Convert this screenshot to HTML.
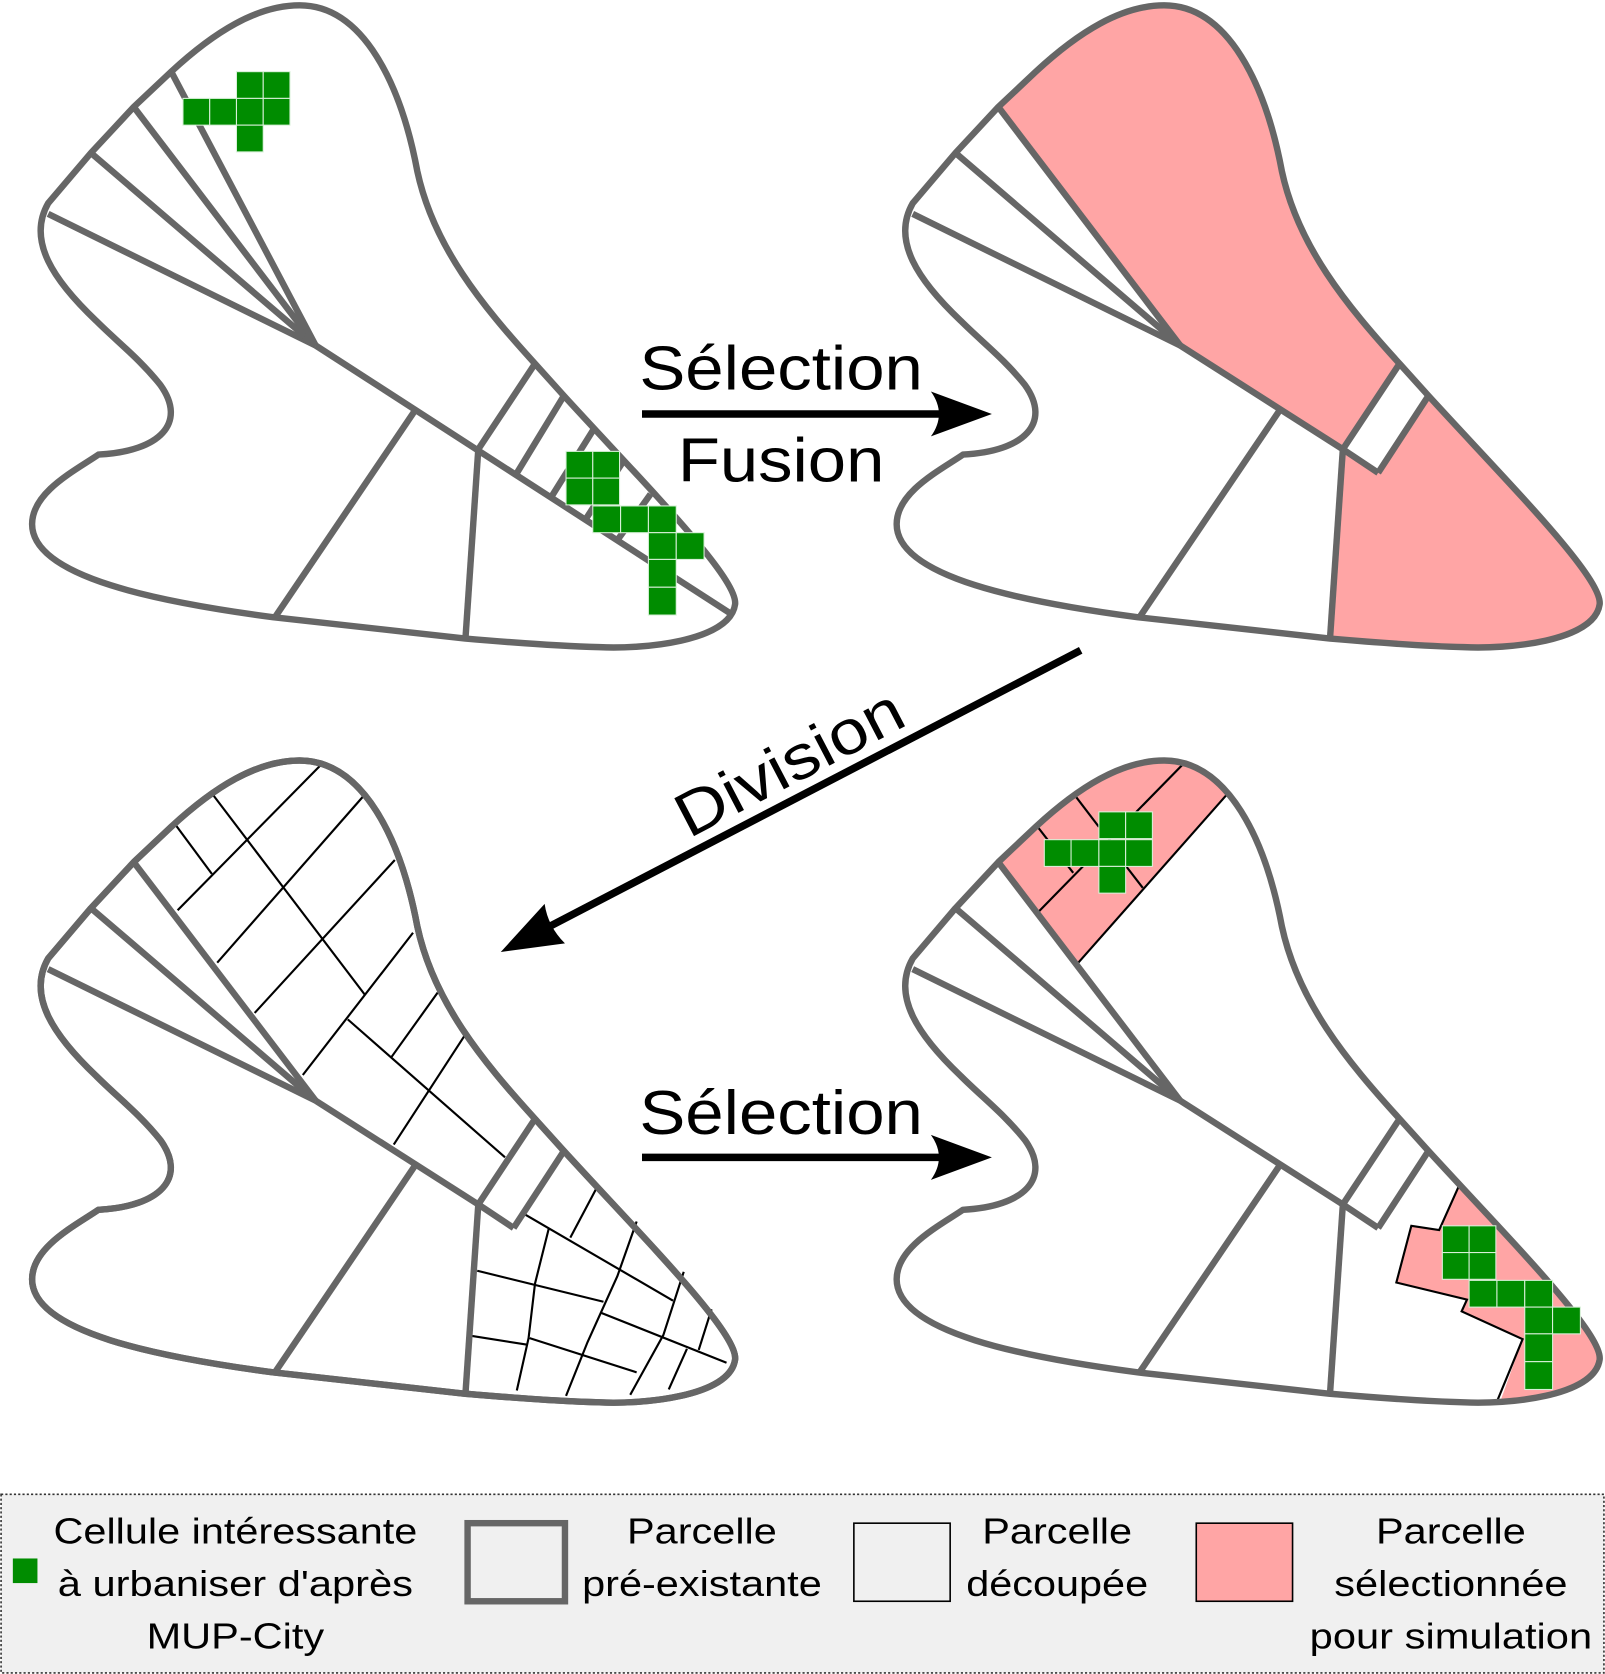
<!DOCTYPE html>
<html><head><meta charset="utf-8"><style>
html,body{margin:0;padding:0;background:#fff;}
svg{display:block;}
text{font-family:"Liberation Sans",Arial,sans-serif;fill:#000;}
</style></head><body>
<svg width="1605" height="1674" viewBox="0 0 1500 1565" preserveAspectRatio="none" xmlns="http://www.w3.org/2000/svg">
<defs>
<path id="outline" d="M45,190 L85,143 L125,100 L160,67 C200,30 240,5 280,5 C340,5 375,80 390,160 C405,230 450,285 500,340 L527,370 C600,450 690,540 687,565 C682,600 600,607 560,605 C520,604 470,600 435,597 L255,577 C150,563 30,540 30,490 C30,460 70,440 92,425 C150,422 175,395 150,360 C130,335 110,320 90,300 C50,262 25,225 45,190 Z"/>
<clipPath id="clipTR"><use href="#outline" transform="translate(808,0)"/></clipPath>
<clipPath id="clipBR"><use href="#outline" transform="translate(808,706)"/></clipPath>
<g id="cellT">
</g>
</defs>

<!-- TOP LEFT -->
<g fill="none" stroke="#666" stroke-width="6" stroke-linejoin="round">
<use href="#outline" fill="#fff"/>
<line x1="45" y1="200" x2="295" y2="323"/>
<line x1="85" y1="143" x2="295" y2="323"/>
<line x1="125" y1="100" x2="295" y2="323"/>
<line x1="160" y1="67" x2="295" y2="323"/>
<line x1="295" y1="323" x2="685" y2="575"/>
<line x1="387" y1="385" x2="257" y2="577"/>
<line x1="447" y1="420" x2="435" y2="597"/>
<line x1="447" y1="420" x2="500" y2="340"/>
<line x1="482" y1="444" x2="527" y2="370"/>
<line x1="515" y1="465" x2="555" y2="401"/>
<line x1="547" y1="486" x2="582" y2="432"/>
<line x1="577" y1="505" x2="608" y2="462"/>
</g>
<g fill="#008c00" stroke="#d8f0d8" stroke-width="1">
<rect x="221" y="67" width="25" height="25"/><rect x="246" y="67" width="25" height="25"/>
<rect x="171" y="92" width="25" height="25"/><rect x="196" y="92" width="25" height="25"/><rect x="221" y="92" width="25" height="25"/><rect x="246" y="92" width="25" height="25"/>
<rect x="221" y="117" width="25" height="25"/>
<rect x="529" y="422" width="25" height="25"/><rect x="554" y="422" width="25" height="25"/>
<rect x="529" y="447" width="25" height="25"/><rect x="554" y="447" width="25" height="25"/>
<rect x="554" y="473" width="26" height="25"/><rect x="580" y="473" width="26" height="25"/><rect x="606" y="473" width="26" height="25"/>
<rect x="606" y="498" width="26" height="25"/><rect x="632" y="498" width="26" height="25"/>
<rect x="606" y="523" width="26" height="26"/><rect x="606" y="549" width="26" height="26"/>
</g>

<!-- TOP RIGHT -->
<g>
<g clip-path="url(#clipTR)">
<rect x="800" y="0" width="720" height="640" fill="#ffa5a5"/>
<g transform="translate(808,0)" fill="#fff">
<polygon points="80,41 295,323 447,420 435,597 435,700 -100,700 -100,-100 80,-100"/>
<polygon points="447,420 521,307 565,307 546,338 480,442"/>
</g>
</g>
<g transform="translate(808,0)" fill="none" stroke="#666" stroke-width="6" stroke-linejoin="round">
<use href="#outline"/>
<line x1="45" y1="200" x2="295" y2="323"/>
<line x1="85" y1="143" x2="295" y2="323"/>
<line x1="125" y1="100" x2="295" y2="323"/>
<line x1="295" y1="323" x2="447" y2="420"/>
<line x1="447" y1="420" x2="480" y2="442"/>
<line x1="387" y1="385" x2="257" y2="577"/>
<line x1="447" y1="420" x2="435" y2="597"/>
<line x1="447" y1="420" x2="500" y2="340"/>
<line x1="480" y1="442" x2="527" y2="370"/>
</g>
</g>

<!-- BOTTOM LEFT -->
<g>
<g transform="translate(0,706)" fill="none" stroke="#666" stroke-width="6" stroke-linejoin="round">
<use href="#outline" fill="#fff"/>
</g>
<g stroke="#000" stroke-width="2" fill="none">
<line x1="299" y1="716" x2="166" y2="851"/>
<line x1="199" y1="743" x2="341" y2="930"/>
<line x1="164" y1="771" x2="198" y2="817"/>
<line x1="339" y1="745" x2="203" y2="900"/>
<line x1="369" y1="804" x2="238" y2="947"/>
<line x1="386" y1="872" x2="283" y2="1005"/>
<line x1="409" y1="928" x2="366" y2="988"/>
<line x1="325" y1="953" x2="472" y2="1082"/>
<line x1="435" y1="967" x2="368" y2="1070"/>
<line x1="490" y1="1135" x2="629" y2="1216"/>
<line x1="446" y1="1188" x2="564" y2="1217"/>
<line x1="561" y1="1227" x2="679" y2="1274"/>
<line x1="441" y1="1249" x2="492" y2="1257"/>
<line x1="495" y1="1251" x2="595" y2="1283"/>
<polyline points="513,1148 500,1200 494,1251 483,1300"/>
<line x1="559" y1="1108" x2="533" y2="1157"/>
<polyline points="595,1142 577,1193 549,1255 529,1305"/>
<polyline points="639,1189 620,1248 589,1304"/>
<line x1="665" y1="1224" x2="653" y2="1262"/>
<line x1="642" y1="1261" x2="625" y2="1299"/>
</g>
<g transform="translate(0,706)" fill="none" stroke="#666" stroke-width="6" stroke-linejoin="round">
<use href="#outline"/>
<line x1="45" y1="200" x2="295" y2="323"/>
<line x1="85" y1="143" x2="295" y2="323"/>
<line x1="125" y1="100" x2="295" y2="323"/>
<line x1="295" y1="323" x2="447" y2="420"/>
<line x1="447" y1="420" x2="480" y2="442"/>
<line x1="387" y1="385" x2="257" y2="577"/>
<line x1="447" y1="420" x2="435" y2="597"/>
<line x1="447" y1="420" x2="500" y2="340"/>
<line x1="480" y1="442" x2="527" y2="370"/>
</g>
</g>

<!-- BOTTOM RIGHT -->
<g>
<g clip-path="url(#clipBR)">
<polygon points="892,752 1006,902 1190,693 1000,600" fill="#ffa5a5"/>
<polygon points="1372,1090 1345,1150 1319,1146 1305,1199 1371,1215 1366,1226 1423,1252 1395,1330 1600,1330 1600,1050" fill="#ffa5a5"/>
<g stroke="#000" stroke-width="2" fill="none">
<line x1="1006" y1="902" x2="1150" y2="739"/>
<line x1="969" y1="854" x2="1108" y2="712"/>
<line x1="962" y1="763" x2="1003" y2="816"/>
<line x1="998" y1="735" x2="1027" y2="773"/>
<line x1="1051" y1="808" x2="1068" y2="830"/>
<polyline points="1375,1083 1345,1150 1319,1146 1305,1199 1371,1215 1366,1226 1423,1252 1395,1320"/>
<line x1="1447" y1="1195" x2="1440" y2="1222"/>
<line x1="1400" y1="1140" x2="1392" y2="1160"/>
</g>
</g>
<g transform="translate(808,706)" fill="none" stroke="#666" stroke-width="6" stroke-linejoin="round">
<use href="#outline"/>
<line x1="45" y1="200" x2="295" y2="323"/>
<line x1="85" y1="143" x2="295" y2="323"/>
<line x1="125" y1="100" x2="295" y2="323"/>
<line x1="295" y1="323" x2="447" y2="420"/>
<line x1="447" y1="420" x2="480" y2="442"/>
<line x1="387" y1="385" x2="257" y2="577"/>
<line x1="447" y1="420" x2="435" y2="597"/>
<line x1="447" y1="420" x2="500" y2="340"/>
<line x1="480" y1="442" x2="527" y2="370"/>
</g>
<g fill="#008c00" stroke="#d8f0d8" stroke-width="1">
<rect x="1027" y="759" width="25" height="25"/><rect x="1052" y="759" width="25" height="25"/>
<rect x="976" y="785" width="25" height="25"/><rect x="1001" y="785" width="26" height="25"/><rect x="1027" y="785" width="25" height="25"/><rect x="1052" y="785" width="25" height="25"/>
<rect x="1027" y="810" width="25" height="25"/>
<rect x="1348" y="1146" width="25" height="25"/><rect x="1373" y="1146" width="25" height="25"/>
<rect x="1348" y="1171" width="25" height="25"/><rect x="1373" y="1171" width="25" height="25"/>
<rect x="1373" y="1197" width="26" height="25"/><rect x="1399" y="1197" width="26" height="25"/><rect x="1425" y="1197" width="26" height="25"/>
<rect x="1425" y="1222" width="26" height="25"/><rect x="1451" y="1222" width="26" height="25"/>
<rect x="1425" y="1247" width="26" height="26"/><rect x="1425" y="1273" width="26" height="26"/>
</g>
</g>

<!-- ARROWS -->
<g>
<line x1="600" y1="387" x2="882" y2="387" stroke="#000" stroke-width="7"/>
<path d="M927,387 L870,366 Q885,387 870,408 Z" fill="#000"/>
<text x="730" y="364" font-size="58" text-anchor="middle" textLength="265" lengthAdjust="spacingAndGlyphs">Sélection</text>
<text x="730" y="450" font-size="58" text-anchor="middle" textLength="193" lengthAdjust="spacingAndGlyphs">Fusion</text>
</g>
<g>
<line x1="1010" y1="608" x2="508" y2="869" stroke="#000" stroke-width="7"/>
<path d="M468,890 L509,845 Q512,866 528,882 Z" fill="#000"/>
<text transform="translate(737,712) rotate(-27.5)" x="0" y="21" font-size="58" text-anchor="middle" textLength="232" lengthAdjust="spacingAndGlyphs">Division</text>
</g>
<g>
<line x1="600" y1="1082" x2="882" y2="1082" stroke="#000" stroke-width="7"/>
<path d="M927,1082 L870,1061 Q885,1082 870,1103 Z" fill="#000"/>
<text x="730" y="1060" font-size="58" text-anchor="middle" textLength="265" lengthAdjust="spacingAndGlyphs">Sélection</text>
</g>

<!-- LEGEND -->
<g>
<rect x="1" y="1397" width="1498" height="167" fill="#f0f0f0" stroke="#333" stroke-width="1.5" stroke-dasharray="2,2"/>
<g>
<rect x="12" y="1457" width="23" height="23" fill="#008c00"/>
<text x="220" y="1443" font-size="34" text-anchor="middle" textLength="340" lengthAdjust="spacingAndGlyphs">Cellule intéressante</text>
<text x="220" y="1492" font-size="34" text-anchor="middle" textLength="332" lengthAdjust="spacingAndGlyphs">à urbaniser d'après</text>
<text x="220" y="1541" font-size="34" text-anchor="middle" textLength="166" lengthAdjust="spacingAndGlyphs">MUP-City</text>
</g>
<g>
<rect x="437" y="1424" width="91" height="73" fill="#f0f0f0" stroke="#666" stroke-width="6"/>
<text x="656" y="1443" font-size="34" text-anchor="middle" textLength="140" lengthAdjust="spacingAndGlyphs">Parcelle</text>
<text x="656" y="1492" font-size="34" text-anchor="middle" textLength="224" lengthAdjust="spacingAndGlyphs">pré-existante</text>
</g>
<g>
<rect x="798" y="1424" width="90" height="73" fill="#f0f0f0" stroke="#000" stroke-width="1.5"/>
<text x="988" y="1443" font-size="34" text-anchor="middle" textLength="140" lengthAdjust="spacingAndGlyphs">Parcelle</text>
<text x="988" y="1492" font-size="34" text-anchor="middle" textLength="170" lengthAdjust="spacingAndGlyphs">découpée</text>
</g>
<g>
<rect x="1118" y="1424" width="90" height="73" fill="#ffa5a5" stroke="#000" stroke-width="1.5"/>
<text x="1356" y="1443" font-size="34" text-anchor="middle" textLength="140" lengthAdjust="spacingAndGlyphs">Parcelle</text>
<text x="1356" y="1492" font-size="34" text-anchor="middle" textLength="218" lengthAdjust="spacingAndGlyphs">sélectionnée</text>
<text x="1356" y="1541" font-size="34" text-anchor="middle" textLength="264" lengthAdjust="spacingAndGlyphs">pour simulation</text>
</g>
</g>
</svg>
</body></html>
